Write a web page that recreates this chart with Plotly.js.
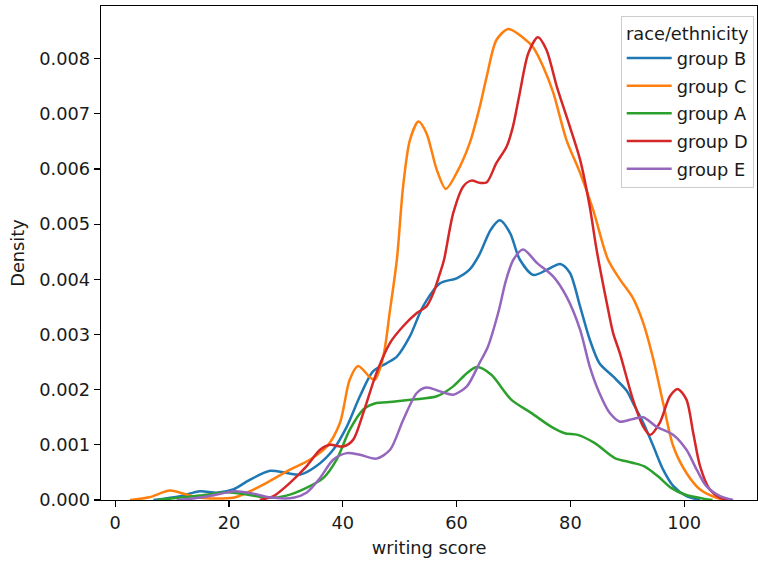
<!DOCTYPE html>
<html>
<head>
<meta charset="utf-8">
<script src="https://cdn.plot.ly/plotly-3.0.1.min.js"></script>
<style>html,body{margin:0;padding:0;background:#fff;}#chart{width:758px;height:567px;}</style>
</head>
<body>
<div id="chart"></div>
<script>
const groupNames = ["group B", "group C", "group A", "group D", "group E"];
const groupColors = ["#1f77b4", "#ff7f0e", "#2ca02c", "#d62728", "#9467bd"];

const bX = [6.7, 11.4, 14.9, 17.8, 20.7, 23.7, 27.2, 30.1, 32.5, 35.3, 38.3, 40.7, 43.0, 45.3, 47.7, 49.5, 51.8, 54.1, 57.1, 60.0, 62.3, 64.0, 66.0, 67.6, 69.4, 71.1, 73.5, 75.8, 78.2, 79.9, 81.7, 83.4, 85.1, 87.5, 89.9, 91.0, 92.8, 94.6, 96.3, 98.1, 100.4, 102.8];
const bY = [0, 0.00007, 0.00016, 0.00013, 0.00019, 0.00037, 0.00053, 0.00049, 0.00046, 0.00061, 0.00091, 0.00133, 0.00188, 0.00233, 0.00248, 0.0026, 0.00297, 0.00351, 0.00393, 0.00402, 0.00418, 0.00445, 0.0049, 0.00507, 0.00484, 0.00436, 0.00408, 0.00417, 0.00428, 0.00412, 0.00351, 0.00291, 0.00248, 0.00224, 0.00198, 0.00176, 0.0014, 0.00097, 0.00055, 0.00025, 0.00007, 0];

const cX = [2.6, 6, 9.6, 12.5, 14.9, 20.7, 23.5, 26.6, 30.7, 34.2, 37.2, 39.5, 41.2, 42.7, 44.8, 45.6, 47.1, 48.3, 49.5, 50.6, 51.8, 53.3, 54.7, 56.5, 58.1, 60.0, 62.3, 64.0, 65.3, 67.0, 69.1, 71.7, 73.5, 75.2, 77.0, 79.3, 81.7, 84.0, 86.6, 88.7, 91.0, 92.8, 94.6, 96.3, 98.1, 100.4, 102.8, 105.7, 107.4];
const cY = [0, 0.00005, 0.00017, 0.0001, 0.00004, 0.00004, 0.00015, 0.00031, 0.00055, 0.00073, 0.00097, 0.0014, 0.00218, 0.00243, 0.00222, 0.00218, 0.0026, 0.00345, 0.00436, 0.00569, 0.00653, 0.00686, 0.00665, 0.00599, 0.00564, 0.00593, 0.00647, 0.0071, 0.00768, 0.00834, 0.00854, 0.00838, 0.0082, 0.00786, 0.00738, 0.00653, 0.00593, 0.00526, 0.00436, 0.004, 0.00366, 0.00321, 0.00254, 0.00176, 0.00097, 0.00049, 0.00019, 0.00004, 0];

const aX = [7.3, 14.9, 19.6, 23.1, 26.6, 30.1, 33.6, 36.6, 38.9, 41.2, 43.6, 45.9, 47.7, 52.4, 56.5, 59.4, 61.8, 63.6, 66.1, 69.6, 73.1, 76.6, 79.0, 81.3, 84.3, 87.8, 90.7, 93.0, 95.4, 97.7, 100.1, 103.6, 105];
const aY = [0, 0.00008, 0.00014, 0.0001, 0.00004, 0.00008, 0.00022, 0.0004, 0.00073, 0.00127, 0.00164, 0.00176, 0.00177, 0.00182, 0.00188, 0.00206, 0.0023, 0.00241, 0.00227, 0.00182, 0.00158, 0.00133, 0.00121, 0.00118, 0.00103, 0.00076, 0.00068, 0.00061, 0.00043, 0.00022, 0.0001, 0.00002, 0];

const dX = [25.4, 27.8, 30.7, 33.6, 36.0, 37.7, 40.1, 41.8, 43.6, 45.9, 48.3, 50.6, 53.0, 54.7, 55.9, 57.1, 57.8, 59.4, 61.2, 62.6, 64.1, 65.3, 67.0, 68.8, 69.9, 71.1, 72.6, 74.3, 75.8, 77.6, 79.9, 81.7, 83.4, 84.6, 86.4, 87.5, 88.7, 91.0, 92.8, 94.0, 95.7, 97.5, 98.9, 100.4, 101.6, 102.8, 104.5, 106.3, 108];
const dY = [0, 0.00007, 0.00031, 0.00061, 0.00091, 0.001, 0.00097, 0.00109, 0.00158, 0.0023, 0.00285, 0.00315, 0.00339, 0.00351, 0.00375, 0.00412, 0.00436, 0.0052, 0.00569, 0.00579, 0.00575, 0.00576, 0.00611, 0.00641, 0.00677, 0.00738, 0.0081, 0.00839, 0.00816, 0.0075, 0.00677, 0.00617, 0.00532, 0.00454, 0.00357, 0.00303, 0.00266, 0.00182, 0.00133, 0.00118, 0.0014, 0.00188, 0.00201, 0.00182, 0.00121, 0.00061, 0.00019, 0.00004, 0];

const eX = [10.8, 14, 17, 21, 24, 27, 31.3, 33.6, 36.0, 38.3, 40.7, 43.0, 45.9, 48.3, 50.6, 53.0, 54.7, 57.1, 59.4, 61.8, 64.0, 65.5, 67.3, 68.7, 70.0, 71.7, 74.1, 77.0, 79.3, 81.7, 83.4, 85.1, 86.9, 88.7, 91.0, 92.8, 95.1, 98.1, 100.4, 102.2, 103.9, 106.3, 108.6];
const eY = [0, 0.00003, 0.00008, 0.00016, 0.00012, 0.00005, 0.00004, 0.00013, 0.0004, 0.00073, 0.00085, 0.00082, 0.00075, 0.00091, 0.00145, 0.00194, 0.00204, 0.00197, 0.00191, 0.00206, 0.00248, 0.00278, 0.00339, 0.00399, 0.00436, 0.00454, 0.0043, 0.00405, 0.00369, 0.00309, 0.00242, 0.00194, 0.00158, 0.00142, 0.00147, 0.0015, 0.00133, 0.00118, 0.00091, 0.00055, 0.00025, 0.00007, 0];

const xTicks = [0, 20, 40, 60, 80, 100];
const yTicks = [0, 0.001, 0.002, 0.003, 0.004, 0.005, 0.006, 0.007, 0.008];

const seriesX = [bX, cX, aX, dX, eX];
const seriesY = [bY, cY, aY, dY, eY];

const traces = groupNames.map((name, i) => ({
  type: "scatter",
  mode: "lines",
  name: name,
  legendgroup: name,
  x: seriesX[i],
  y: seriesY[i],
  line: {color: groupColors[i], width: 2.5, shape: "spline", smoothing: 0.8},
  hoverinfo: "skip"
}));

const font = {family: "DejaVu Sans, sans-serif", size: 17.8, color: "#1a1a1a"};

const layout = {
  width: 758, height: 567,
  margin: {l: 101, r: 1, t: 6, b: 67, pad: 0},
  paper_bgcolor: "#fff", plot_bgcolor: "#fff",
  font: font,
  showlegend: true,
  legend: {
    x: 0.995, y: 0.98, xanchor: "right", yanchor: "top",
    bgcolor: "rgba(255,255,255,0.8)", bordercolor: "#cccccc", borderwidth: 1,
    font: font,
    title: {text: "race/ethnicity", side: "top center", font: font},
    tracegroupgap: 1.5,
    itemwidth: 45
  },
  xaxis: {
    range: [-2.51, 112.8],
    tickmode: "array", tickvals: xTicks, ticktext: xTicks.map(String),
    ticks: "outside", ticklen: 6, tickwidth: 1.2, tickcolor: "#000",
    showline: true, linecolor: "#000", linewidth: 1.3, mirror: true,
    showgrid: false, zeroline: false,
    tickfont: font,
    title: {text: "writing score", font: font, standoff: 10}
  },
  yaxis: {
    range: [0, 0.008956],
    tickmode: "array", tickvals: yTicks, ticktext: yTicks.map(v => v.toFixed(3)),
    ticks: "outside", ticklen: 6, tickwidth: 1.2, tickcolor: "#000",
    showline: true, linecolor: "#000", linewidth: 1.3, mirror: true,
    showgrid: false, zeroline: false,
    tickfont: font,
    title: {text: "Density", font: font, standoff: 10}
  }
};

Plotly.newPlot("chart", traces, layout, {displayModeBar: false, staticPlot: true});
</script>
</body>
</html>
